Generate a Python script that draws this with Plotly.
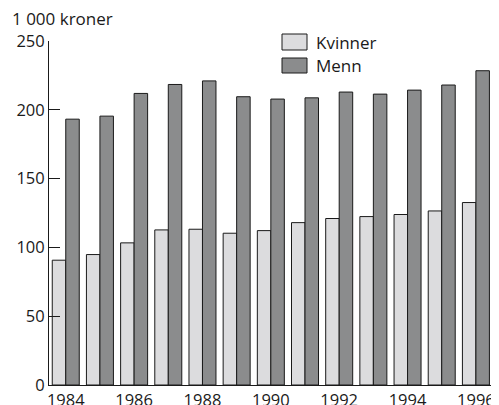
import plotly.graph_objects as go

years = [1984, 1985, 1986, 1987, 1988, 1989, 1990, 1991, 1992, 1993, 1994, 1995, 1996]
kvinner = [90.7, 94.8, 103.3, 112.7, 113.2, 110.3, 112.2, 118.0, 121.0, 122.4, 123.9, 126.5, 132.6]
menn = [193.2, 195.4, 211.9, 218.4, 221.0, 209.5, 207.8, 208.7, 212.9, 211.4, 214.3, 218.0, 228.4]
series_names = ["Kvinner", "Menn"]
series_colors = ["#dcdcde", "#8b8c8d"]
y_ticks = [0, 50, 100, 150, 200, 250]
x_ticks = [1984, 1986, 1988, 1990, 1992, 1994, 1996]
y_title = "1 000 kroner"

FONT = "Open Sans"
OFF = 8  # page body margin
W, H = 499 - OFF, 405 - OFF
L, T, R, B = 49 - OFF, 41 - OFF, 6, 20
PW, PH = W - L - R, H - T - B

fig = go.Figure()
for name, vals, col in zip(series_names, [kvinner, menn], series_colors):
    fig.add_trace(go.Bar(
        x=years, y=vals, name=name,
        marker=dict(color=col, line=dict(color="#1a1a1a", width=1)),
        showlegend=False,
    ))

fig.update_layout(
    width=W, height=H,
    margin=dict(l=L, r=R, t=T, b=B),
    paper_bgcolor="white", plot_bgcolor="white",
    barmode="group", bargap=0.21, bargroupgap=0,
    font=dict(family=FONT, size=16.5, color="#1a1a1a"),
    xaxis=dict(
        range=[1983.51, 1996.5], tickmode="array", tickvals=x_ticks,
        ticks="", showgrid=False, zeroline=False, automargin=False,
        showline=True, linecolor="#1a1a1a", linewidth=1,
        ticklabelstandoff=0,
    ),
    yaxis=dict(
        range=[0, 250], tickmode="array", tickvals=y_ticks,
        ticks="inside", ticklen=11, tickcolor="#1a1a1a", tickwidth=1,
        showgrid=False, zeroline=False, automargin=False,
        showline=True, linecolor="#1a1a1a", linewidth=1,
    ),
)

def px_x(x):
    return (x - 49) / PW

def px_y(y):
    return (385 - y) / PH

# y-axis title
fig.add_annotation(text=y_title, xref="paper", yref="paper", x=px_x(10), y=px_y(18.5),
                   xanchor="left", yanchor="middle", showarrow=False,
                   font=dict(family=FONT, size=17))

# manual legend
leg_x0, leg_w = 282, 25
leg_rows = [(34, 50), (58, 73)]
for (y0, y1), name, col in zip(leg_rows, series_names, series_colors):
    fig.add_shape(type="rect", xref="paper", yref="paper",
                  x0=px_x(leg_x0), x1=px_x(leg_x0 + leg_w),
                  y0=px_y(y1), y1=px_y(y0),
                  line=dict(color="#1a1a1a", width=1), fillcolor=col)
    fig.add_annotation(text=name, xref="paper", yref="paper",
                       x=px_x(314), y=px_y((y0 + y1) / 2),
                       xanchor="left", yanchor="middle", showarrow=False,
                       font=dict(family=FONT, size=17))

fig.write_html("out.html")
